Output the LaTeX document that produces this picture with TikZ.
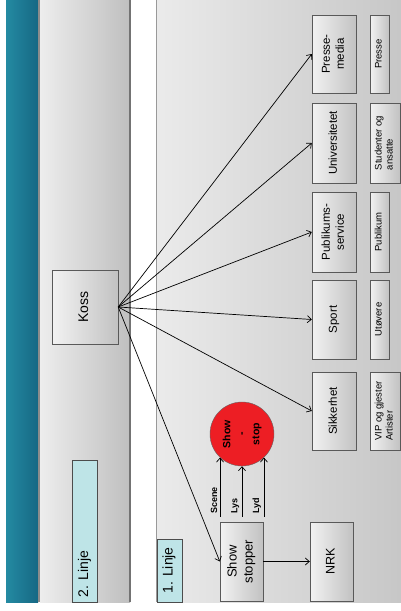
\documentclass[tikz,border=0pt]{standalone}
\usepackage{fontspec}
\setmainfont{Liberation Sans}
\usepackage{graphicx}
\usetikzlibrary{arrows.meta}
\definecolor{tealdark}{RGB}{22,104,132}
\definecolor{teallight}{RGB}{36,138,162}
\definecolor{linjecyan}{RGB}{190,228,231}
\definecolor{showred}{RGB}{237,30,36}
\newcommand{\vtext}[2][c]{\rotatebox{90}{\begin{tabular}{@{}#1@{}}#2\end{tabular}}}
\tikzset{
  box/.style = {draw=black!65, left color=black!5, right color=black!24, inner sep=0pt,
    font=\fontsize{11.5}{14}\selectfont},
  smallbox/.style = {box, font=\fontsize{9.5}{11}\selectfont},
  linjebox/.style = {draw=black!70, fill=linjecyan, inner sep=0pt},
  arr/.style = {-{Straight Barb[length=4pt,width=7pt]}, line width=0.7pt},
  lbl/.style = {rotate=90, inner sep=2.5pt, font=\fontsize{9}{10}\selectfont\bfseries}
}

\begin{document}
\begin{tikzpicture}[x=1pt, y=-1pt]
    \useasboundingbox (0,0) rectangle (401,611);
    % bands
    \shade[left color=teallight, right color=tealdark] (6,0) rectangle (38,602);
    \shade[left color=black!7, right color=black!25] (40,0) rectangle (130,602);
    \shade[left color=black!8, right color=black!22] (157,0) rectangle (401,602);
    \draw[black!45, line width=2pt] (39,0) -- (39,602);
    \draw[black!55, line width=2pt] (130,0) -- (130,602);
    \draw[black!40, line width=1.5pt] (156.5,0) -- (156.5,602);

    \node[linjebox, minimum width=25pt, minimum height=142pt] (linje2) at (84.5,531) {};
    \node[rotate=90, anchor=west, inner sep=0pt, font=\fontsize{14}{16}\selectfont]
      at ([yshift=5pt]linje2.south) {2. Linje};
    \node[linjebox, minimum width=25pt, minimum height=63pt, font=\fontsize{14}{16}\selectfont]
      (linje1) at (169.5,570.5) {\vtext{1. Linje}};

    \node[box, minimum width=66pt, minimum height=74pt, font=\fontsize{14}{16}\selectfont]
      (koss) at (85,307) {\vtext{Koss}};
    \node[box, minimum width=43pt, minimum height=79pt, font=\fontsize{13}{16}\selectfont]
      (stopper) at (241.5,561.5) {\vtext{Show\\stopper}};
    \node[box, minimum width=43pt, minimum height=79pt, font=\fontsize{12.5}{15}\selectfont]
      (nrk) at (331.5,561.5) {\vtext{NRK}};

    \node[box, minimum width=44pt, minimum height=78pt] (presse) at (334,54) {\vtext{Presse-\\media}};
    \node[box, minimum width=44pt, minimum height=80pt] (univ) at (334,143) {\vtext{Universitetet}};
    \node[box, minimum width=44pt, minimum height=80pt] (publikum) at (334,232) {\vtext{Publikums-\\service}};
    \node[box, minimum width=44pt, minimum height=79pt] (sport) at (334,319.5) {\vtext{Sport}};
    \node[box, minimum width=44pt, minimum height=78pt] (sikkerhet) at (334,411) {\vtext{Sikkerhet}};

    \node[smallbox, minimum width=19pt, minimum height=78pt] (pressegr) at (379.5,54) {\vtext{Presse}};
    \node[smallbox, minimum width=30pt, minimum height=80pt] (studenter) at (385,143) {\vtext[l]{Studenter og\\ansatte}};
    \node[smallbox, minimum width=19pt, minimum height=80pt] (publikumgr) at (379.5,232) {\vtext{Publikum}};
    \node[smallbox, minimum width=19pt, minimum height=79pt] (utovere) at (379.5,319.5) {\vtext{Utøvere}};
    \node[smallbox, minimum width=30pt, minimum height=78pt] (vip) at (385,411) {\vtext[l]{VIP og gjester\\Artister}};

    \node[circle, draw=black!60, fill=showred, minimum size=64pt, inner sep=0pt,
      font=\fontsize{10.5}{14.5}\selectfont\bfseries] (show) at (242,434) {\vtext{Show\\-\\stop}};

    \draw[arr] (koss.east) -- (presse.west);
    \draw[arr] (koss.east) -- (univ.west);
    \draw[arr] (koss.east) -- (publikum.west);
    \draw[arr] (koss.east) -- (sport.west);
    \draw[arr] (koss.east) -- (sikkerhet.west);
    \draw[arr] (koss.east) -- (stopper.west);
    \draw[arr] (stopper.east) -- (nrk.west);

    \coordinate (feed) at ([yshift=5pt]stopper.north);
    \draw[arr] (show.-133 |- feed) -- node[lbl, pos=0, anchor=south west] {Scene} (show.-133);
    \draw[arr] (show.south |- feed) -- node[lbl, pos=0, anchor=south west] {Lys} (show.south);
    \draw[arr] (show.-47 |- feed) -- node[lbl, pos=0, anchor=south west] {Lyd} (show.-47);
\end{tikzpicture}
\end{document}
